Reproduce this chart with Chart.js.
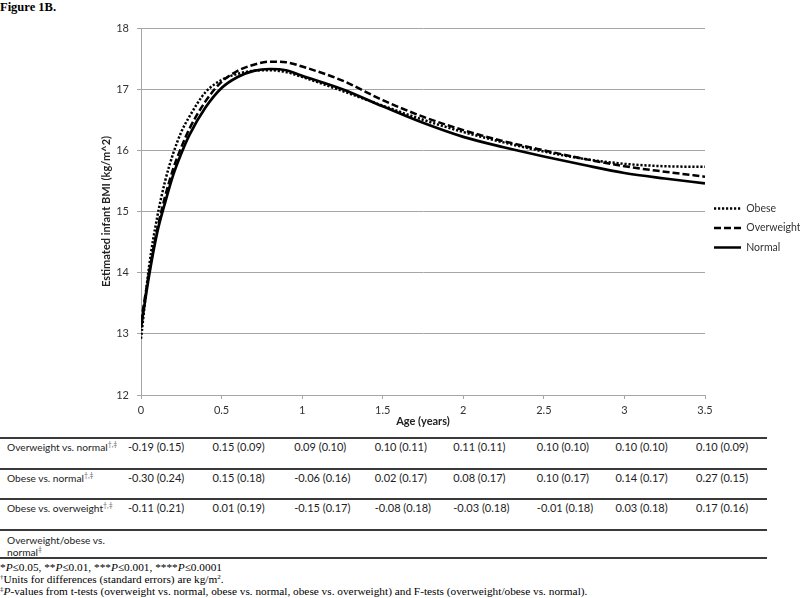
<!DOCTYPE html>
<html>
<head>
<meta charset="utf-8">
<script src="https://cdn.jsdelivr.net/npm/chart.js@4/dist/chart.umd.min.js"></script>
<style>
    body { margin: 0; width: 800px; height: 598px; position: relative; overflow: hidden; background: #fff; font-family: Lato, "Open Sans", sans-serif; }
    #figTitle { position: absolute; left: 0; top: 0; font: bold 12.5px "Liberation Serif", serif; color: #000; }
    #wrap { position: absolute; left: 0; top: 0; width: 800px; height: 428px; }
    .cell { position: absolute; font-size: 11px; line-height: 12px; color: #222; white-space: nowrap; }
    .cell.label { font-size: 10.2px; }
    .cell sup { font-size: 7px; vertical-align: 4px; line-height: 0; color: #666; }
    .rule { position: absolute; left: 0; width: 767px; height: 1.5px; background: #3a3a3a; }
    .note { position: absolute; left: 0; font: 11.3px "Liberation Serif", serif; line-height: 12px; color: #000; white-space: nowrap; }
    .note sup { font-size: 7px; vertical-align: 4px; line-height: 0; }
</style>
</head>
<body>
<div id="figTitle">Figure 1B.</div>
<div id="wrap"><canvas id="grafica" width="800" height="428"></canvas></div>
<div id="tabla"></div>
<div class="note" style="top:561px">*<i>P</i>≤0.05, **<i>P</i>≤0.01, ***<i>P</i>≤0.001, ****<i>P</i>≤0.0001</div>
<div class="note" style="top:573px"><sup>†</sup>Units for differences (standard errors) are kg/m<sup>2</sup>.</div>
<div class="note" style="top:585px"><sup>‡</sup><i>P</i>-values from t-tests (overweight vs. normal, obese vs. normal, obese vs. overweight) and F-tests (overweight/obese vs. normal).</div>

<script>
// edad (años) y BMI estimado por grupo
const ages = [0, 0.05, 0.1, 0.15, 0.2, 0.25, 0.3, 0.4, 0.5, 0.6, 0.7, 0.8, 0.9, 1, 1.25, 1.5, 1.75, 2, 2.25, 2.5, 2.75, 3, 3.25, 3.5];
const obese      = [12.92, 14.1, 14.9, 15.5, 15.95, 16.3, 16.55, 16.95, 17.15, 17.25, 17.3, 17.31, 17.28, 17.2, 16.97, 16.73, 16.5, 16.3, 16.13, 15.98, 15.86, 15.78, 15.74, 15.73];
const overweight = [13.2, 14.0, 14.7, 15.25, 15.7, 16.05, 16.35, 16.8, 17.12, 17.3, 17.4, 17.45, 17.44, 17.37, 17.14, 16.82, 16.55, 16.33, 16.15, 16.0, 15.86, 15.74, 15.65, 15.57];
const normal     = [13.1, 13.95, 14.65, 15.15, 15.6, 15.95, 16.25, 16.7, 17.02, 17.2, 17.3, 17.33, 17.31, 17.22, 17.0, 16.72, 16.45, 16.22, 16.05, 15.9, 15.76, 15.63, 15.54, 15.46];

// tabla de diferencias
const tableAges = [0, 0.5, 1, 1.5, 2, 2.5, 3, 3.5];
const rowLabels = ['Overweight vs. normal', 'Obese vs. normal', 'Obese vs. overweight', 'Overweight/obese vs.<br>normal'];
const rowSups = ['†,‡', '†,‡', '†,‡', '‡'];
const rowValues = [
    ['-0.19 (0.15)', '0.15 (0.09)', '0.09 (0.10)', '0.10 (0.11)', '0.11 (0.11)', '0.10 (0.10)', '0.10 (0.10)', '0.10 (0.09)'],
    ['-0.30 (0.24)', '0.15 (0.18)', '-0.06 (0.16)', '0.02 (0.17)', '0.08 (0.17)', '0.10 (0.17)', '0.14 (0.17)', '0.27 (0.15)'],
    ['-0.11 (0.21)', '0.01 (0.19)', '-0.15 (0.17)', '-0.08 (0.18)', '-0.03 (0.18)', '-0.01 (0.18)', '0.03 (0.18)', '0.17 (0.16)'],
    []
];

function toPoints(values) {
    return ages.map((a, i) => ({ x: a, y: values[i] }));
}

const gridColor = '#a6a6a6';

const chart = new Chart(document.getElementById('grafica'), {
    type: 'line',
    data: {
        datasets: [
            { label: 'Obese', data: toPoints(obese), borderColor: '#000', borderWidth: 2.5, borderDash: [2.2, 1.8], pointRadius: 0, cubicInterpolationMode: 'monotone', fill: false },
            { label: 'Overweight', data: toPoints(overweight), borderColor: '#000', borderWidth: 2.5, borderDash: [7, 3], pointRadius: 0, cubicInterpolationMode: 'monotone', fill: false },
            { label: 'Normal', data: toPoints(normal), borderColor: '#000', borderWidth: 2.7, pointRadius: 0, cubicInterpolationMode: 'monotone', fill: false }
        ]
    },
    options: {
        responsive: false,
        animation: false,
        layout: { padding: { left: 100, top: 28, right: 0, bottom: 0 } },
        plugins: {
            tooltip: { enabled: false },
            legend: {
                position: 'right',
                maxWidth: 95,
                labels: {
                    usePointStyle: true,
                    pointStyle: 'line',
                    pointStyleWidth: 27,
                    padding: 9,
                    color: '#333',
                    font: { family: 'Lato', size: 10.5 },
                    // el estilo de punto pierde el borderDash, se copia del dataset
                    generateLabels: c => Chart.defaults.plugins.legend.labels.generateLabels(c).map((item, i) => ({
                        ...item,
                        lineDash: c.data.datasets[i].borderDash || [],
                        lineWidth: 2.5,
                        lineCap: 'butt'
                    }))
                }
            }
        },
        scales: {
            x: {
                type: 'linear',
                min: 0,
                max: 3.5,
                afterFit: s => { s.height = 33; },
                ticks: { stepSize: 0.5, padding: 5, color: '#333', font: { family: 'Lato', size: 11 }, callback: v => String(v) },
                grid: { drawOnChartArea: false, tickLength: 4, color: gridColor },
                border: { color: gridColor, width: 1 },
                title: { display: true, text: 'Age (years)', padding: 0, color: '#222', font: { family: 'Lato', size: 11, weight: 'bold' } }
            },
            y: {
                min: 12,
                max: 18,
                afterFit: s => { s.width = 41; },
                ticks: { stepSize: 1, padding: 8, color: '#333', font: { family: 'Lato', size: 11 } },
                grid: { tickLength: 4, color: gridColor },
                border: { color: gridColor, width: 1 },
                title: { display: true, text: 'Estimated infant BMI (kg/m^2)', padding: 0, color: '#222', font: { family: 'Lato', size: 11, weight: 'bold' } }
            }
        }
    }
});

// tabla debajo de la grafica, alineada con el eje x
const tabla = document.getElementById('tabla');
const ruleYs = [437, 468, 498, 529, 557];
const rowTops = [441, 472, 502, 534];
const colShift = [-13, -9, -8, -8, -10, -7, -9, -9];

ruleYs.forEach(y => {
    const r = document.createElement('div');
    r.className = 'rule';
    r.style.top = y + 'px';
    tabla.appendChild(r);
});

rowLabels.forEach((label, i) => {
    const c = document.createElement('div');
    c.className = 'cell label';
    c.style.left = '7px';
    c.style.top = rowTops[i] + 'px';
    c.innerHTML = label + '<sup>' + rowSups[i] + '</sup>';
    tabla.appendChild(c);

    rowValues[i].forEach((v, j) => {
        const d = document.createElement('div');
        d.className = 'cell';
        d.style.left = (chart.scales.x.getPixelForValue(tableAges[j]) + colShift[j]) + 'px';
        d.style.top = rowTops[i] + 'px';
        d.textContent = v;
        tabla.appendChild(d);
    });
});
</script>
</body>
</html>
